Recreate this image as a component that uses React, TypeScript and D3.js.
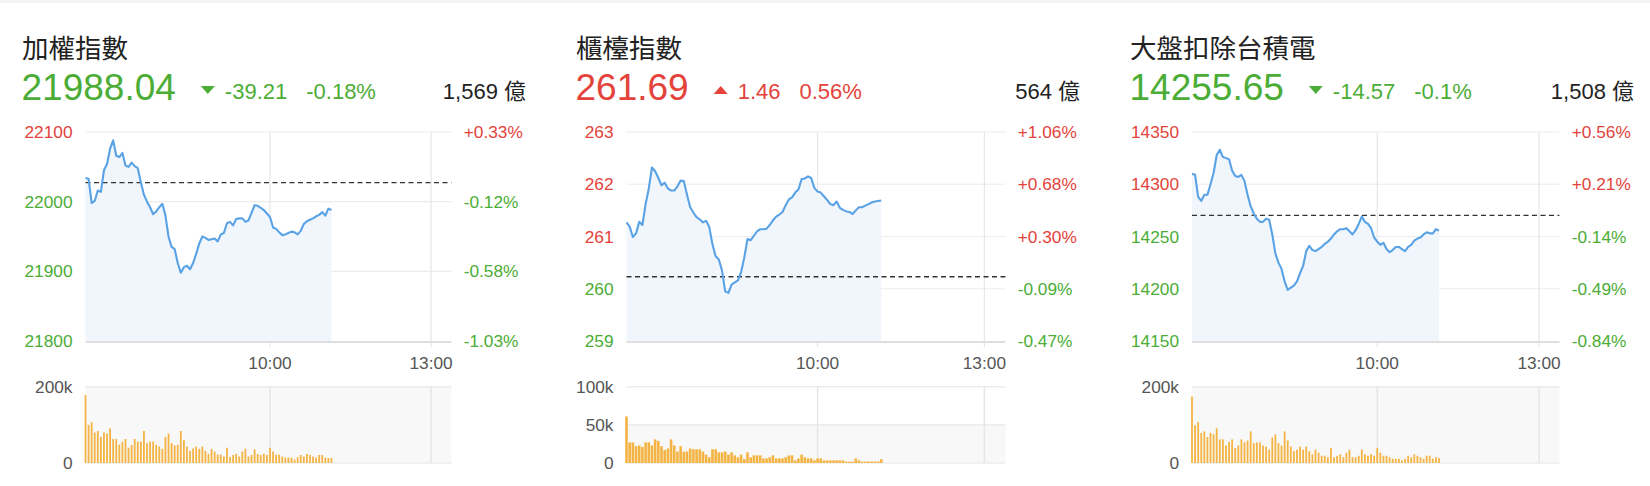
import { useEffect, useRef } from 'react';
import * as d3 from 'd3';

const panelTitles = ['加權指數', '櫃檯指數', '大盤扣除台積電'];
const lastPrices = [21988.04, 261.69, 14255.65];
const priceChanges = [-39.21, 1.46, -14.57];
const changePercents = ['-0.18%', '0.56%', '-0.1%'];
const turnovers = ['1,569 億', '564 億', '1,508 億'];
const prevCloses = [22027.25, 260.23, 14270.22];

const priceTicks = [
  [21800, 21900, 22000, 22100],
  [259, 260, 261, 262, 263],
  [14150, 14200, 14250, 14300, 14350],
];
// volume ticks in thousands
const volumeTicks = [
  [0, 200],
  [0, 50, 100],
  [0, 200],
];
const timeLabels = ['10:00', '13:00'];
const timeSlots = [60, 112.4];
const sessionSlots = 119;

const taiexPrices = [
  22034, 22033, 21998, 22001, 22016, 22014, 22045, 22054, 22076, 22088,
  22066, 22064, 22070, 22052, 22050, 22056, 22051, 22048, 22028, 22010,
  22000, 21992, 21982, 21986, 21992, 21997, 21980, 21950, 21935, 21932,
  21912, 21898, 21906, 21908, 21903, 21912, 21925, 21940, 21950, 21948,
  21945, 21946, 21947, 21943, 21953, 21955, 21969, 21971, 21966, 21975,
  21976, 21976, 21971, 21973, 21984, 21995, 21994, 21991, 21988, 21983,
  21978, 21963, 21961, 21956, 21952, 21953, 21955, 21957, 21956, 21953,
  21958, 21968, 21972, 21974, 21976, 21979, 21981, 21985, 21980, 21990,
  21988.04,
];
const otcPrices = [
  261.27, 261.19, 260.99, 261.06, 261.28, 261.22, 261.62, 261.92, 262.32, 262.25,
  262.12, 261.98, 262.03, 261.92, 261.88, 261.88, 261.96, 262.07, 262.06, 261.8,
  261.56, 261.46, 261.37, 261.33, 261.27, 261.3, 261.18, 260.85, 260.62, 260.56,
  260.35, 259.95, 259.92, 260.08, 260.12, 260.16, 260.32, 260.6, 260.95, 260.93,
  261.01, 261.1, 261.14, 261.14, 261.15, 261.22, 261.31, 261.38, 261.42, 261.47,
  261.6, 261.71, 261.75, 261.84, 261.9, 262.1, 262.11, 262.15, 262.12, 261.93,
  261.86, 261.84, 261.77, 261.7, 261.62, 261.6, 261.67, 261.55, 261.51, 261.48,
  261.47, 261.43, 261.5, 261.56, 261.56, 261.59, 261.62, 261.65, 261.67, 261.68,
  261.69,
];
const exTsmcPrices = [
  14310, 14309, 14288, 14284, 14290, 14290, 14300, 14311, 14328, 14333,
  14326, 14325, 14324, 14313, 14308, 14307, 14309, 14303, 14290, 14279,
  14272, 14267, 14264, 14264, 14267, 14266, 14252, 14234, 14225, 14219,
  14207, 14199, 14201, 14203, 14207, 14215, 14222, 14236, 14241, 14237,
  14236, 14238, 14240, 14243, 14245, 14248, 14252, 14255, 14257, 14257,
  14258, 14255, 14252, 14256, 14262, 14269, 14264, 14262, 14258, 14249,
  14245, 14242, 14244, 14238, 14235, 14237, 14240, 14240, 14238, 14236,
  14240, 14242, 14246, 14248, 14249, 14252, 14254, 14253, 14253, 14257,
  14255.65,
];

// volumes in thousands
const taiexVolumes = [
  178, 100, 107, 80, 84, 68, 80, 77, 91, 63,
  63, 48, 56, 63, 40, 47, 63, 56, 56, 84,
  52, 56, 56, 48, 43, 37, 68, 77, 52, 46,
  48, 84, 60, 43, 32, 38, 43, 37, 43, 32,
  24, 37, 30, 22, 22, 17, 40, 16, 21, 24,
  17, 30, 37, 17, 21, 36, 24, 21, 24, 21,
  40, 30, 22, 22, 17, 14, 14, 14, 9, 15,
  21, 17, 24, 21, 17, 14, 21, 21, 14, 13,
  13,
];
const otcVolumes = [
  61, 27, 27, 22, 23, 21, 27, 27, 23, 31,
  29, 22, 17, 19, 31, 23, 15, 22, 15, 15,
  19, 18, 18, 18, 15, 11, 7.5, 18, 18, 14,
  14, 15, 11, 14, 10, 7.5, 11, 5, 14, 7.5,
  10, 10, 10, 6, 6, 7.5, 10, 6, 6, 6,
  7.5, 10, 10, 3.5, 6, 11, 7.5, 6, 6, 3.5,
  6, 6, 3.5, 3.5, 3.5, 3.5, 3.5, 3.5, 3.5, 1.8,
  1.8, 1.8, 6, 3.5, 1.8, 1.8, 2, 2, 2, 2,
  5,
];
const exTsmcVolumes = [
  174, 99, 107, 79, 83, 68, 79, 75, 91, 62,
  62, 46, 55, 62, 39, 46, 62, 54, 59, 83,
  52, 54, 54, 46, 43, 35, 67, 75, 52, 46,
  83, 59, 43, 31, 35, 43, 35, 43, 31, 23,
  35, 27, 19, 19, 15, 39, 15, 19, 23, 15,
  27, 35, 15, 15, 19, 35, 23, 19, 23, 19,
  39, 27, 19, 19, 15, 11, 11, 11, 7, 11,
  19, 15, 23, 19, 15, 11, 19, 19, 11, 15,
  13,
];

const priceSeries = [taiexPrices, otcPrices, exTsmcPrices];
const volumeSeries = [taiexVolumes, otcVolumes, exTsmcVolumes];

const W = 1650;
const H = 486;
const UP = '#E3433B';
const DOWN = '#4BAD36';
const FONT = '"Liberation Sans", Arial, "Noto Sans CJK TC", sans-serif';

export default function App() {
  const svgRef = useRef<SVGSVGElement>(null);

  useEffect(() => {
    if (!svgRef.current) return;
    const svg = d3.select(svgRef.current);
    svg.selectAll('*').remove();

    svg.append('rect').attr('width', W).attr('height', H).attr('fill', '#fff');
    svg.append('rect').attr('width', W).attr('height', 3).attr('fill', '#f3f3f3');

    const panelOffsets = [0, 554, 1108];
    const plotLefts = [85.5, 72.5, 84];
    const plotRight = 451.4;
    const plotTop = 132;
    const plotBottom = 341;
    const volTop = 386.7;
    const volBottom = 463;

    panelTitles.forEach((title, i) => {
      const g = svg.append('g')
        .attr('transform', `translate(${panelOffsets[i]},0)`)
        .attr('font-family', FONT);

      const color = priceChanges[i] < 0 ? DOWN : UP;

      // header
      g.append('text')
        .attr('x', 22)
        .attr('y', 58)
        .attr('font-size', 26.5)
        .attr('font-family', '"Noto Sans CJK TC", sans-serif')
        .attr('fill', '#222')
        .text(title);

      const big = g.append('text')
        .attr('x', 21.5)
        .attr('y', 100)
        .attr('font-size', 37)
        .attr('fill', color)
        .text(lastPrices[i].toFixed(2));

      let cx = 21.5 + (big.node() as SVGTextElement).getComputedTextLength() + 25;
      const tri = priceChanges[i] < 0
        ? `M${cx},86 L${cx + 14},86 L${cx + 7},94 Z`
        : `M${cx},94 L${cx + 14},94 L${cx + 7},86 Z`;
      g.append('path').attr('d', tri).attr('fill', color);
      cx += 24;

      const ch = g.append('text')
        .attr('x', cx)
        .attr('y', 99)
        .attr('font-size', 22)
        .attr('fill', color)
        .text(priceChanges[i].toFixed(2));
      cx += (ch.node() as SVGTextElement).getComputedTextLength() + 19;

      g.append('text')
        .attr('x', cx)
        .attr('y', 99)
        .attr('font-size', 22)
        .attr('fill', color)
        .text(changePercents[i]);

      g.append('text')
        .attr('x', 526)
        .attr('y', 99)
        .attr('text-anchor', 'end')
        .attr('font-size', 22)
        .attr('fill', '#222')
        .text(turnovers[i]);

      // price chart
      const ticks = priceTicks[i];
      const prices = priceSeries[i];
      const x = d3.scaleLinear().domain([0, sessionSlots]).range([plotLefts[i], plotRight]);
      const y = d3.scaleLinear()
        .domain([ticks[0], ticks[ticks.length - 1]])
        .range([plotBottom, plotTop]);

      ticks.forEach((t, k) => {
        if (k > 0) {
          g.append('line')
            .attr('x1', plotLefts[i]).attr('x2', plotRight)
            .attr('y1', y(t)).attr('y2', y(t))
            .attr('stroke', '#ececec').attr('stroke-width', 1.2);
        }
        const tc = t > prevCloses[i] ? UP : DOWN;
        g.append('text')
          .attr('x', plotLefts[i] - 13)
          .attr('y', y(t))
          .attr('dy', '0.35em')
          .attr('text-anchor', 'end')
          .attr('font-size', 17.3)
          .attr('fill', tc)
          .text(String(t));
        const pct = (t / prevCloses[i] - 1) * 100;
        g.append('text')
          .attr('x', 463.7)
          .attr('y', y(t))
          .attr('dy', '0.35em')
          .attr('font-size', 17.3)
          .attr('fill', tc)
          .text(`${pct > 0 ? '+' : ''}${pct.toFixed(2)}%`);
      });

      timeSlots.forEach((s) => {
        g.append('line')
          .attr('x1', x(s)).attr('x2', x(s))
          .attr('y1', plotTop).attr('y2', plotBottom + 6)
          .attr('stroke', '#e6e6e6').attr('stroke-width', 1.2);
      });

      const area = d3.area<number>()
        .x((_, k) => x(k))
        .y0(plotBottom)
        .y1((d) => y(d));
      g.append('path')
        .datum(prices)
        .attr('d', area)
        .attr('fill', '#f0f6fc');

      g.append('line')
        .attr('x1', plotLefts[i]).attr('x2', plotRight)
        .attr('y1', plotBottom + 1).attr('y2', plotBottom + 1)
        .attr('stroke', '#dedede').attr('stroke-width', 2);

      g.append('line')
        .attr('x1', plotLefts[i]).attr('x2', plotRight)
        .attr('y1', y(prevCloses[i])).attr('y2', y(prevCloses[i]))
        .attr('stroke', '#333').attr('stroke-width', 1.3)
        .attr('stroke-dasharray', '5,3.5');

      const line = d3.line<number>()
        .x((_, k) => x(k))
        .y((d) => y(d));
      g.append('path')
        .datum(prices)
        .attr('d', line)
        .attr('fill', 'none')
        .attr('stroke', '#5aa2e6')
        .attr('stroke-width', 2.1)
        .attr('stroke-linejoin', 'round');

      timeLabels.forEach((lab, k) => {
        g.append('text')
          .attr('x', x(timeSlots[k]))
          .attr('y', 369)
          .attr('text-anchor', 'middle')
          .attr('font-size', 17.3)
          .attr('fill', '#555')
          .text(lab);
      });

      // volume chart
      const vt = volumeTicks[i];
      const vols = volumeSeries[i];
      const vy = d3.scaleLinear()
        .domain([0, vt[vt.length - 1]])
        .range([volBottom, volTop]);

      g.append('rect')
        .attr('x', plotLefts[i])
        .attr('y', vy(vt[1]))
        .attr('width', plotRight - plotLefts[i])
        .attr('height', vy(0) - vy(vt[1]))
        .attr('fill', '#f8f8f8');

      vt.forEach((t) => {
        g.append('line')
          .attr('x1', plotLefts[i]).attr('x2', plotRight)
          .attr('y1', vy(t)).attr('y2', vy(t))
          .attr('stroke', '#ececec').attr('stroke-width', 1.5);
        g.append('text')
          .attr('x', plotLefts[i] - 13)
          .attr('y', vy(t))
          .attr('dy', '0.35em')
          .attr('text-anchor', 'end')
          .attr('font-size', 17.3)
          .attr('fill', '#555')
          .text(t === 0 ? '0' : `${t}k`);
      });

      timeSlots.forEach((s) => {
        g.append('line')
          .attr('x1', x(s)).attr('x2', x(s))
          .attr('y1', volTop).attr('y2', volBottom)
          .attr('stroke', '#e6e6e6').attr('stroke-width', 1.5);
      });

      const bw = i === 1 ? 2.6 : 1.8;
      g.append('g')
        .selectAll('rect')
        .data(vols)
        .join('rect')
        .attr('x', (_, k) => x(k) - bw / 2)
        .attr('y', (d) => vy(d))
        .attr('width', bw)
        .attr('height', (d) => vy(0) - vy(d))
        .attr('fill', '#f4b444');
    });
  }, []);

  return (
    <svg
      ref={svgRef}
      width={W}
      height={H}
      style={{ position: 'absolute', left: 0, top: 0, display: 'block' }}
    />
  );
}
